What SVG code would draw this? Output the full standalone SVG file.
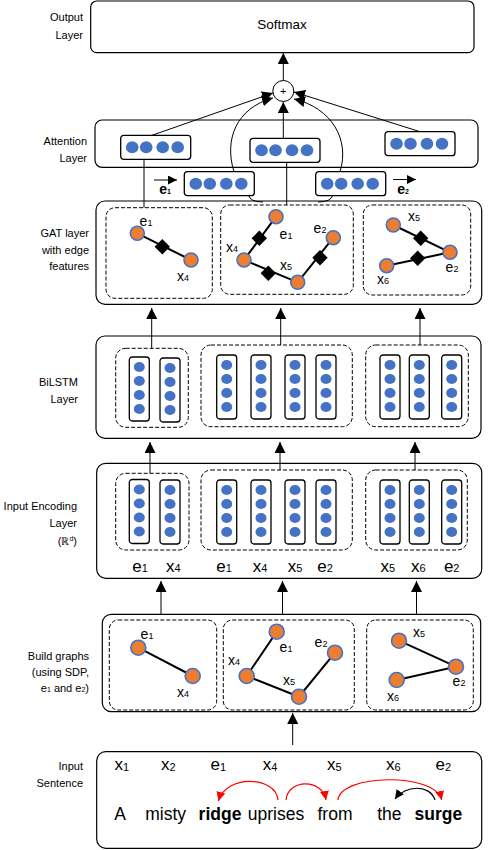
<svg xmlns="http://www.w3.org/2000/svg" xmlns:xlink="http://www.w3.org/1999/xlink" width="488" height="850" viewBox="0 0 488 850">
<style>
.box{fill:#fff;stroke:#000;stroke-width:1.2}
.dash{fill:none;stroke:#000;stroke-width:1;stroke-dasharray:4 2}
.col{fill:#fff;stroke:#000;stroke-width:1.3}
.dot{fill:#4472C4}
.node{fill:#ED7D31;stroke:#4472C4;stroke-width:1.6}
.edge{stroke:#000;stroke-width:2;fill:none}
.dia{fill:#000}
.ln{stroke:#000;stroke-width:1;fill:none}
.lbl{font-family:"Liberation Sans",Arial,sans-serif;font-size:11px;text-anchor:end;fill:#000}
.tok{font-family:"Liberation Sans",Arial,sans-serif;font-size:17px;text-anchor:middle;fill:#000}
.gl{font-family:"Liberation Sans",Arial,sans-serif;font-size:14px;text-anchor:middle;fill:#000}
.sub{font-size:11px}
.gsub{font-size:9px}
.word{font-family:"Liberation Sans",Arial,sans-serif;font-size:17.5px;text-anchor:middle;fill:#000}
.red{stroke:#FF0000;stroke-width:1.2;fill:none}
</style>
<defs>
<marker id="ah" markerUnits="userSpaceOnUse" markerWidth="11" markerHeight="11" viewBox="0 0 10 10" refX="10" refY="5" orient="auto"><path d="M0,0 L10,5 L0,10 z" fill="#000"/></marker>
<marker id="ahr" markerUnits="userSpaceOnUse" markerWidth="9" markerHeight="9" viewBox="0 0 10 10" refX="10" refY="5" orient="auto"><path d="M0,0 L10,5 L0,10 z" fill="#FF0000"/></marker>
<marker id="ahk" markerUnits="userSpaceOnUse" markerWidth="9" markerHeight="9" viewBox="0 0 10 10" refX="10" refY="5" orient="auto"><path d="M0,0 L10,5 L0,10 z" fill="#000"/></marker>
<g id="colv">
<rect class="col" x="0" y="0" width="20" height="64" rx="3"/>
<ellipse class="dot" cx="10" cy="10" rx="5.5" ry="5"/>
<ellipse class="dot" cx="10" cy="24" rx="5.5" ry="5"/>
<ellipse class="dot" cx="10" cy="38" rx="5.5" ry="5"/>
<ellipse class="dot" cx="10" cy="52" rx="5.5" ry="5"/>
</g>
<g id="vec">
<rect class="col" x="0" y="0" width="70" height="24" rx="3"/>
<ellipse class="dot" cx="11.5" cy="12" rx="6.3" ry="6"/>
<ellipse class="dot" cx="25.5" cy="12" rx="6.3" ry="6"/>
<ellipse class="dot" cx="42" cy="12" rx="6.3" ry="6"/>
<ellipse class="dot" cx="57" cy="12" rx="6.3" ry="6"/>
</g>
</defs>

<!-- Layer labels -->
<g id="labels">
<text class="lbl" x="83" y="21">Output</text>
<text class="lbl" x="83" y="39">Layer</text>
<text class="lbl" x="87" y="145">Attention</text>
<text class="lbl" x="87" y="162">Layer</text>
<text class="lbl" x="89" y="237">GAT layer</text>
<text class="lbl" x="89" y="254">with edge</text>
<text class="lbl" x="89" y="270">features</text>
<text class="lbl" x="78" y="386">BiLSTM</text>
<text class="lbl" x="78" y="403">Layer</text>
<text class="lbl" x="77" y="510">Input Encoding</text>
<text class="lbl" x="77" y="527">Layer</text>
<text class="lbl" x="77" y="545">(ℝ<tspan font-size="7" dy="-4">d</tspan><tspan dy="4">)</tspan></text>
<text class="lbl" x="89" y="660">Build graphs</text>
<text class="lbl" x="89" y="676">(using SDP,</text>
<text class="lbl" x="89" y="692">e<tspan font-size="7">1</tspan> and e<tspan font-size="7">2</tspan>)</text>
<text class="lbl" x="83" y="770">Input</text>
<text class="lbl" x="83" y="787">Sentence</text>
</g>

<!-- Output layer -->
<g id="output">
<rect class="box" x="90.7" y="1" width="383.3" height="51.7" rx="6"/>
<text x="282" y="29" font-family="Liberation Sans,Arial,sans-serif" font-size="13.5" text-anchor="middle">Softmax</text>
</g>

<g id="plus">
<circle cx="283.3" cy="91" r="10.5" fill="#fff" stroke="#000" stroke-width="1"/>
<text x="283.3" y="95" font-family="Liberation Sans,Arial,sans-serif" font-size="11" text-anchor="middle">+</text>
</g>

<!-- Attention layer -->
<g id="attention">
<rect class="box" x="95" y="120" width="383" height="47.3" rx="7"/>
<use xlink:href="#vec" x="120.7" y="135.3"/>
<use xlink:href="#vec" x="250" y="138.3"/>
<use xlink:href="#vec" x="385" y="131.7"/>
</g>
<g id="vec-e1">
<use xlink:href="#vec" x="184.3" y="171.7"/>
<line class="ln" x1="154" y1="180" x2="177" y2="180" marker-end="url(#ahk)"/>
<text class="gl" x="165" y="194" font-size="10" font-weight="bold">e<tspan font-size="7">1</tspan></text>
</g>
<g id="vec-e2">
<use xlink:href="#vec" x="315.7" y="171.7"/>
<line class="ln" x1="393" y1="179.5" x2="416" y2="179.5" marker-end="url(#ahk)"/>
<text class="gl" x="403" y="194" font-size="10" font-weight="bold">e<tspan font-size="7">2</tspan></text>
</g>

<!-- GAT layer -->
<g id="gat">
<rect class="box" x="96" y="201" width="385.7" height="103.3" rx="9"/>
<rect class="dash" x="106" y="207.7" width="106.3" height="90.6" rx="9"/>
<rect class="dash" x="220.7" y="205" width="132.6" height="89.3" rx="9"/>
<rect class="dash" x="363.3" y="205" width="107.4" height="90" rx="9"/>
<g id="gat-g1">
<line class="edge" x1="137.3" y1="233.3" x2="191" y2="260"/>
<polygon class="dia" points="162.3,239 170,246.7 162.3,254.4 154.6,246.7"/>
<circle class="node" cx="137.3" cy="233.3" r="7"/>
<circle class="node" cx="191" cy="260" r="7"/>
<text class="gl" x="146" y="226">e<tspan class="gsub">1</tspan></text>
<text class="gl" x="183" y="281" font-size="13">x<tspan class="gsub">4</tspan></text>
</g>
<g id="gat-g2">
<polyline class="edge" points="276,216.7 244,260 297.7,282.3 333.3,237.7"/>
<polygon class="dia" points="259.3,230.6 267,238.3 259.3,246 251.6,238.3"/>
<polygon class="dia" points="268.3,265.6 276,273.3 268.3,281 260.6,273.3"/>
<polygon class="dia" points="320,250 327.7,257.7 320,265.4 312.3,257.7"/>
<circle class="node" cx="276" cy="216.7" r="7"/>
<circle class="node" cx="244" cy="260" r="7"/>
<circle class="node" cx="297.7" cy="282.3" r="7"/>
<circle class="node" cx="333.3" cy="237.7" r="7"/>
<text class="gl" x="286" y="239">e<tspan class="gsub">1</tspan></text>
<text class="gl" x="320" y="233">e<tspan class="gsub">2</tspan></text>
<text class="gl" x="232" y="252">x<tspan class="gsub">4</tspan></text>
<text class="gl" x="286" y="270">x<tspan class="gsub">5</tspan></text>
</g>
<g id="gat-g3">
<polyline class="edge" points="393.3,225 450,252.3 386.7,265.7"/>
<polygon class="dia" points="420.7,230.6 428.4,238.3 420.7,246 413,238.3"/>
<polygon class="dia" points="417.7,250.6 425.4,258.3 417.7,266 410,258.3"/>
<circle class="node" cx="393.3" cy="225" r="7"/>
<circle class="node" cx="450" cy="252.3" r="7"/>
<circle class="node" cx="386.7" cy="265.7" r="7"/>
<text class="gl" x="414" y="221">x<tspan class="gsub">5</tspan></text>
<text class="gl" x="452" y="272">e<tspan class="gsub">2</tspan></text>
<text class="gl" x="383" y="284">x<tspan class="gsub">6</tspan></text>
</g>
</g>

<!-- BiLSTM layer -->
<g id="bilstm">
<rect class="box" x="96" y="336" width="385" height="102.3" rx="9"/>
<rect class="dash" x="115.7" y="348.3" width="72.6" height="79" rx="10"/>
<rect class="dash" x="201" y="345" width="151.3" height="81.7" rx="10"/>
<rect class="dash" x="365.7" y="345" width="102.6" height="81.7" rx="10"/>
<use xlink:href="#colv" x="129.3" y="357"/>
<use xlink:href="#colv" x="160" y="358"/>
<use xlink:href="#colv" x="216.7" y="355"/>
<use xlink:href="#colv" x="251" y="355"/>
<use xlink:href="#colv" x="285" y="355"/>
<use xlink:href="#colv" x="316" y="355"/>
<use xlink:href="#colv" x="380" y="355"/>
<use xlink:href="#colv" x="409.3" y="355"/>
<use xlink:href="#colv" x="441.7" y="355"/>
</g>

<!-- Input Encoding layer -->
<g id="encoding">
<rect class="box" x="96.7" y="463.3" width="385" height="115" rx="9"/>
<rect class="dash" x="115.7" y="473.3" width="73.3" height="76.7" rx="10"/>
<rect class="dash" x="201" y="470" width="151.3" height="80" rx="10"/>
<rect class="dash" x="365.7" y="470" width="101.6" height="80" rx="10"/>
<use xlink:href="#colv" x="129.3" y="479.5"/>
<use xlink:href="#colv" x="160" y="480"/>
<use xlink:href="#colv" x="216.7" y="480"/>
<use xlink:href="#colv" x="251" y="480"/>
<use xlink:href="#colv" x="285" y="480"/>
<use xlink:href="#colv" x="316" y="480"/>
<use xlink:href="#colv" x="380" y="480"/>
<use xlink:href="#colv" x="409.3" y="480"/>
<use xlink:href="#colv" x="441.7" y="480"/>
<text class="tok" x="140" y="572" font-size="16">e<tspan class="sub">1</tspan></text>
<text class="tok" x="173.3" y="572" font-size="16">x<tspan class="sub">4</tspan></text>
<text class="tok" x="224" y="572" font-size="16">e<tspan class="sub">1</tspan></text>
<text class="tok" x="260" y="572" font-size="16">x<tspan class="sub">4</tspan></text>
<text class="tok" x="295" y="572" font-size="16">x<tspan class="sub">5</tspan></text>
<text class="tok" x="325" y="572" font-size="16">e<tspan class="sub">2</tspan></text>
<text class="tok" x="387.7" y="572" font-size="16">x<tspan class="sub">5</tspan></text>
<text class="tok" x="418.3" y="572" font-size="16">x<tspan class="sub">6</tspan></text>
<text class="tok" x="451.7" y="572" font-size="16">e<tspan class="sub">2</tspan></text>
</g>

<!-- Build graphs -->
<g id="build">
<rect class="box" x="102.3" y="614.3" width="378.4" height="97.4" rx="9"/>
<rect class="dash" x="109.3" y="620" width="107.4" height="90" rx="9"/>
<rect class="dash" x="223.3" y="620" width="131" height="90" rx="9"/>
<rect class="dash" x="366.7" y="620" width="106.6" height="90" rx="9"/>
<g id="bg-g1">
<line class="edge" x1="138.3" y1="647.7" x2="192.7" y2="676"/>
<circle class="node" cx="138.3" cy="647.7" r="7.5"/>
<circle class="node" cx="192.7" cy="676" r="7.5"/>
<text class="gl" x="147" y="639">e<tspan class="gsub">1</tspan></text>
<text class="gl" x="183" y="697">x<tspan class="gsub">4</tspan></text>
</g>
<g id="bg-g2">
<polyline class="edge" points="276.7,631.7 246.7,676 299,696.7 335,652.7"/>
<circle class="node" cx="276.7" cy="631.7" r="7.5"/>
<circle class="node" cx="246.7" cy="676" r="7.5"/>
<circle class="node" cx="299" cy="696.7" r="7.5"/>
<circle class="node" cx="335" cy="652.7" r="7.5"/>
<text class="gl" x="286" y="652">e<tspan class="gsub">1</tspan></text>
<text class="gl" x="321" y="647">e<tspan class="gsub">2</tspan></text>
<text class="gl" x="234" y="665">x<tspan class="gsub">4</tspan></text>
<text class="gl" x="289" y="685">x<tspan class="gsub">5</tspan></text>
</g>
<g id="bg-g3">
<polyline class="edge" points="399,640.7 456,666.7 396.7,680"/>
<circle class="node" cx="399" cy="640.7" r="7.5"/>
<circle class="node" cx="456" cy="666.7" r="7.5"/>
<circle class="node" cx="396.7" cy="680" r="7.5"/>
<text class="gl" x="419" y="637">x<tspan class="gsub">5</tspan></text>
<text class="gl" x="459" y="686">e<tspan class="gsub">2</tspan></text>
<text class="gl" x="393" y="701">x<tspan class="gsub">6</tspan></text>
</g>
</g>

<!-- Input sentence -->
<g id="sentence">
<rect class="box" x="96.7" y="751.7" width="385" height="96.6" rx="9"/>
<text class="tok" x="121.7" y="770">x<tspan class="sub" dy="1">1</tspan></text>
<text class="tok" x="168.3" y="770">x<tspan class="sub" dy="1">2</tspan></text>
<text class="tok" x="218.3" y="770">e<tspan class="sub" dy="1">1</tspan></text>
<text class="tok" x="270" y="770">x<tspan class="sub" dy="1">4</tspan></text>
<text class="tok" x="334.3" y="770">x<tspan class="sub" dy="1">5</tspan></text>
<text class="tok" x="393.3" y="770">x<tspan class="sub" dy="1">6</tspan></text>
<text class="tok" x="443.3" y="770">e<tspan class="sub" dy="1">2</tspan></text>
<text class="word" x="120" y="820">A</text>
<text class="word" x="165.7" y="820">misty</text>
<text class="word" x="220" y="820" font-weight="bold">ridge</text>
<text class="word" x="276" y="820">uprises</text>
<text class="word" x="335" y="820">from</text>
<text class="word" x="389.3" y="820">the</text>
<text class="word" x="438.3" y="820" font-weight="bold">surge</text>
<path class="red" d="M278,800 C276,776 226,774 218.5,801" marker-end="url(#ahr)"/>
<path class="red" d="M286,800 C288,779 322,778 326,800" marker-end="url(#ahr)"/>
<path class="red" d="M338,800 C340,774 435,772 441.7,800" marker-end="url(#ahr)"/>
<path d="M435,800 C430,784 405,785 395,799" stroke="#000" stroke-width="1.2" fill="none" marker-end="url(#ahk)"/>
</g>

<!-- Connectors -->
<g id="connectors">
<line class="ln" x1="283.3" y1="80.5" x2="283.3" y2="53" marker-end="url(#ah)"/>
<line class="ln" x1="152" y1="135.3" x2="273" y2="93" marker-end="url(#ah)"/>
<path class="ln" d="M234,171.7 C224,140 236,108 273,98" marker-end="url(#ah)"/>
<line class="ln" x1="283.3" y1="138.3" x2="283.3" y2="102" marker-end="url(#ah)"/>
<path class="ln" d="M340,171.7 C350,140 332,108 294,99" marker-end="url(#ah)"/>
<line class="ln" x1="420" y1="131.7" x2="294" y2="92" marker-end="url(#ah)"/>
<line class="ln" x1="144" y1="159.3" x2="144" y2="207.7"/>
<line class="ln" x1="286.7" y1="162.3" x2="286.7" y2="205"/>
<path class="ln" d="M248.5,195 Q250,202 263,202"/>
<path class="ln" d="M333,195 Q331,202 318,202"/>
<line class="ln" x1="151.7" y1="348.3" x2="151.7" y2="308" marker-end="url(#ah)"/>
<line class="ln" x1="280.7" y1="345" x2="280.7" y2="308" marker-end="url(#ah)"/>
<line class="ln" x1="420" y1="345" x2="420" y2="308" marker-end="url(#ah)"/>
<line class="ln" x1="150" y1="473.3" x2="150" y2="442" marker-end="url(#ah)"/>
<line class="ln" x1="280" y1="470" x2="280" y2="442" marker-end="url(#ah)"/>
<line class="ln" x1="415" y1="470" x2="415" y2="442" marker-end="url(#ah)"/>
<line class="ln" x1="161" y1="614.3" x2="161" y2="581" marker-end="url(#ah)"/>
<line class="ln" x1="282.5" y1="614.3" x2="282.5" y2="581" stroke-width="2" marker-end="url(#ah)"/>
<line class="ln" x1="416.5" y1="614.3" x2="416.5" y2="581" marker-end="url(#ah)"/>
<line class="ln" x1="292.7" y1="745" x2="292.7" y2="713" marker-end="url(#ah)"/>
</g>
</svg>
